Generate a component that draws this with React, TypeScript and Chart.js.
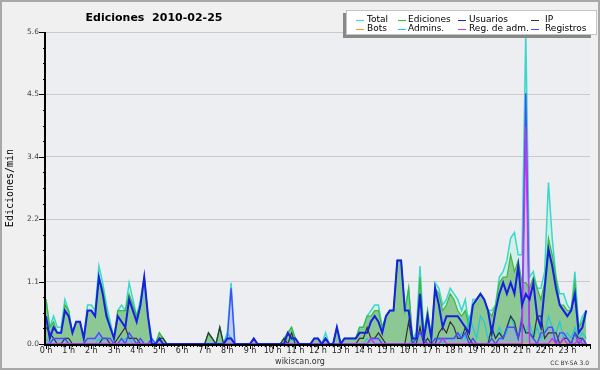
import React, { useEffect, useRef } from 'react';
import { Chart, registerables } from 'chart.js';

Chart.register(...registerables);

// 10-minute slots, 24 hours (each row = one hour, 6 slots)
const SLOT_MINUTES = 10;
const DAY_MINUTES = 1440;
const TITLE = 'Ediciones  2010-02-25';
const Y_TITLE = 'Ediciones/min';
const Y_MAX = 5.6;
const Y_STEP = 0.28;

const total = [
  0.8, 0.3, 0.5, 0.3, 0.3, 0.8,
  0.6, 0.2, 0.4, 0.4, 0.1, 0.7,
  0.7, 0.6, 1.4, 1.1, 0.7, 0.4,
  0.1, 0.6, 0.7, 0.6, 1.1, 0.8,
  0.5, 0.8, 1.2, 0.5, 0.1, 0,
  0.2, 0.1, 0, 0, 0, 0,
  0, 0, 0, 0, 0, 0,
  0, 0.2, 0.1, 0, 0.3, 0,
  0.2, 1.1, 0, 0, 0, 0,
  0, 0.1, 0, 0, 0, 0,
  0, 0, 0, 0.1, 0.2, 0.3,
  0.1, 0, 0, 0, 0, 0.1,
  0.1, 0, 0.2, 0, 0, 0.3,
  0, 0.1, 0.1, 0.1, 0.1, 0.3,
  0.3, 0.5, 0.6, 0.7, 0.7, 0.3,
  0.5, 0.6, 0.6, 1.5, 1.5, 0.6,
  1.0, 0.1, 0.2, 1.4, 0.2, 0.6,
  0.1, 1.1, 1.0, 0.7, 0.8, 1.0,
  0.9, 0.8, 0.6, 0.8, 0.3, 0.8,
  0.8, 0.9, 0.8, 0.6, 0.6, 0.7,
  1.2, 1.3, 1.5, 1.9, 2.0, 1.6,
  1.6, 5.6, 1.2, 1.3, 1.0, 1.0,
  1.3, 2.9, 1.9, 1.2, 0.9, 0.9,
  0.7, 0.6, 1.3, 0.3, 0.5, 0.6,
];

const ediciones = [
  0.8, 0.3, 0.4, 0.2, 0.2, 0.7,
  0.6, 0.2, 0.4, 0.4, 0.1, 0.6,
  0.6, 0.5, 1.2, 1.0, 0.6, 0.3,
  0.1, 0.6, 0.6, 0.6, 0.9, 0.7,
  0.5, 0.7, 1.2, 0.5, 0, 0,
  0.2, 0.1, 0, 0, 0, 0,
  0, 0, 0, 0, 0, 0,
  0, 0.2, 0.1, 0, 0.3, 0,
  0.1, 0.1, 0, 0, 0, 0,
  0, 0.1, 0, 0, 0, 0,
  0, 0, 0, 0.1, 0.2, 0.3,
  0.1, 0, 0, 0, 0, 0.1,
  0.1, 0, 0.1, 0, 0, 0.3,
  0, 0.1, 0.1, 0.1, 0.1, 0.3,
  0.3, 0.5, 0.5, 0.6, 0.6, 0.3,
  0.5, 0.6, 0.6, 1.5, 1.5, 0.6,
  1.0, 0.1, 0.1, 1.2, 0.1, 0.6,
  0.1, 1.0, 0.9, 0.6, 0.7, 0.9,
  0.8, 0.6, 0.5, 0.6, 0.3, 0.7,
  0.8, 0.9, 0.8, 0.6, 0.5, 0.7,
  1.1, 1.2, 1.2, 1.6, 1.3, 1.5,
  1.1, 1.1, 1.0, 1.2, 1.0, 0.8,
  1.1, 1.9, 1.6, 1.2, 0.7, 0.7,
  0.6, 0.6, 1.1, 0.3, 0.4, 0.6,
];

const usuarios = [
  0.5, 0.1, 0.3, 0.2, 0.2, 0.6,
  0.5, 0.2, 0.4, 0.4, 0.1, 0.6,
  0.6, 0.5, 1.2, 0.9, 0.5, 0.3,
  0.1, 0.5, 0.4, 0.3, 0.8, 0.6,
  0.4, 0.7, 1.2, 0.5, 0, 0,
  0.1, 0, 0, 0, 0, 0,
  0, 0, 0, 0, 0, 0,
  0, 0, 0, 0, 0, 0,
  0.1, 0.1, 0, 0, 0, 0,
  0, 0.1, 0, 0, 0, 0,
  0, 0, 0, 0, 0.2, 0.1,
  0.1, 0, 0, 0, 0, 0.1,
  0.1, 0, 0.1, 0, 0, 0.3,
  0, 0.1, 0.1, 0.1, 0.1, 0.2,
  0.2, 0.2, 0.4, 0.5, 0.4, 0.2,
  0.5, 0.6, 0.6, 1.5, 1.5, 0.6,
  0.6, 0.1, 0.1, 0.9, 0.1, 0.5,
  0.1, 1.0, 0.7, 0.3, 0.5, 0.5,
  0.5, 0.5, 0.4, 0.3, 0.2, 0.7,
  0.8, 0.9, 0.8, 0.6, 0.2, 0.6,
  0.9, 1.1, 0.9, 1.1, 0.9, 1.4,
  0.7, 0.9, 0.8, 1.1, 0.5, 0.3,
  1.0, 1.7, 1.4, 1.0, 0.7, 0.6,
  0.5, 0.6, 0.9, 0.2, 0.3, 0.6,
];

const ip = [
  0.3, 0.2, 0.1, 0, 0, 0.1,
  0.1, 0, 0, 0, 0, 0,
  0, 0, 0, 0.1, 0.1, 0,
  0, 0.1, 0.2, 0.3, 0.1, 0.1,
  0.1, 0, 0, 0, 0, 0,
  0.1, 0.1, 0, 0, 0, 0,
  0, 0, 0, 0, 0, 0,
  0, 0.2, 0.1, 0, 0.3, 0,
  0, 0, 0, 0, 0, 0,
  0, 0, 0, 0, 0, 0,
  0, 0, 0, 0.1, 0, 0.2,
  0, 0, 0, 0, 0, 0,
  0, 0, 0, 0, 0, 0,
  0, 0, 0, 0, 0, 0.1,
  0.1, 0.3, 0.1, 0.1, 0.2, 0.1,
  0, 0, 0, 0, 0, 0,
  0.4, 0, 0, 0.3, 0, 0.1,
  0, 0, 0.2, 0.3, 0.2, 0.4,
  0.3, 0.1, 0.1, 0.3, 0.1, 0,
  0, 0, 0, 0, 0.3, 0.1,
  0.2, 0.1, 0.3, 0.5, 0.4, 0.1,
  0.4, 0.2, 0.2, 0.1, 0.5, 0.5,
  0.1, 0.2, 0.2, 0.2, 0, 0.1,
  0.1, 0, 0.2, 0.1, 0.1, 0,
];

const bots = [
  0, 0, 0, 0, 0, 0, 0, 0, 0, 0, 0, 0, 0, 0, 0, 0, 0, 0, 0, 0, 0, 0, 0, 0,
  0, 0, 0, 0, 0, 0, 0, 0, 0, 0, 0, 0, 0, 0, 0, 0, 0, 0, 0, 0, 0, 0, 0, 0,
  0, 0, 0, 0, 0, 0, 0, 0, 0, 0, 0, 0, 0, 0, 0, 0, 0, 0, 0, 0, 0, 0, 0, 0,
  0, 0, 0, 0, 0, 0, 0, 0, 0, 0, 0, 0, 0, 0, 0, 0, 0, 0, 0, 0, 0, 0, 0, 0,
  0, 0, 0, 0, 0, 0, 0, 0, 0, 0, 0, 0, 0, 0, 0, 0, 0, 0, 0, 0, 0, 0, 0, 0,
  0, 0, 0, 0, 0, 0, 0, 0, 0, 0, 0, 0, 0, 0, 0, 0, 0, 0, 0, 0, 0, 0, 0, 0,
];

const admins = [
  0.1, 0, 0.1, 0, 0, 0.1,
  0, 0, 0, 0, 0, 0,
  0, 0, 0.1, 0, 0, 0,
  0, 0, 0, 0.1, 0.1, 0,
  0, 0, 0, 0, 0, 0,
  0.1, 0, 0, 0, 0, 0,
  0, 0, 0, 0, 0, 0,
  0, 0, 0, 0, 0, 0,
  0.2, 0.1, 0, 0, 0, 0,
  0, 0, 0, 0, 0, 0,
  0, 0, 0, 0, 0, 0.1,
  0, 0, 0, 0, 0, 0,
  0, 0, 0.1, 0, 0, 0,
  0, 0, 0, 0, 0, 0,
  0, 0.1, 0, 0, 0, 0,
  0, 0, 0, 0, 0, 0,
  0, 0.1, 0, 0.2, 0.1, 0,
  0, 0, 0.1, 0, 0.1, 0.1,
  0.1, 0.1, 0.2, 0.1, 0.5, 0.3,
  0.1, 0.5, 0.4, 0.1, 0.2, 0.1,
  0.3, 0.1, 0.2, 0.5, 0.3, 0.1,
  0.3, 0.2, 0.4, 0.1, 0.3, 0.1,
  0.2, 0.5, 0.3, 0.2, 0.4, 0.1,
  0.2, 0.1, 0.3, 0.1, 0.2, 0.1,
];

const regAdm = [
  0, 0, 0, 0, 0, 0,
  0, 0, 0, 0, 0, 0,
  0, 0, 0, 0, 0, 0,
  0, 0, 0, 0, 0, 0,
  0, 0, 0, 0, 0, 0,
  0, 0, 0, 0, 0, 0,
  0, 0, 0, 0, 0, 0,
  0, 0, 0, 0, 0, 0,
  0, 0, 0, 0, 0, 0,
  0, 0, 0, 0, 0, 0,
  0, 0, 0, 0, 0, 0,
  0, 0, 0, 0, 0, 0,
  0, 0, 0, 0, 0, 0,
  0, 0, 0, 0, 0, 0,
  0, 0, 0.1, 0, 0, 0,
  0, 0, 0, 0, 0, 0,
  0, 0, 0, 0, 0, 0,
  0, 0, 0, 0.1, 0, 0,
  0, 0, 0, 0, 0, 0,
  0, 0, 0, 0, 0, 0,
  0, 0, 0, 0, 0, 0,
  0, 3.9, 0, 0, 0, 0,
  0, 0, 0.1, 0, 0, 0.1,
  0, 0, 0, 0.1, 0, 0,
];

const registros = [
  0, 0, 0.1, 0.1, 0.1, 0.1,
  0, 0, 0, 0, 0, 0.1,
  0.1, 0.1, 0.2, 0.1, 0.1, 0.1,
  0, 0, 0.1, 0, 0.2, 0.1,
  0, 0.1, 0, 0, 0.1, 0,
  0, 0, 0, 0, 0, 0,
  0, 0, 0, 0, 0, 0,
  0, 0, 0, 0, 0, 0,
  0.1, 1.0, 0, 0, 0, 0,
  0, 0, 0, 0, 0, 0,
  0, 0, 0, 0, 0, 0,
  0, 0, 0, 0, 0, 0,
  0, 0, 0.1, 0, 0, 0,
  0, 0, 0, 0, 0, 0,
  0, 0, 0.1, 0.1, 0.1, 0,
  0, 0, 0, 0, 0, 0,
  0, 0, 0.1, 0.2, 0.1, 0,
  0, 0.1, 0.1, 0.1, 0.1, 0.1,
  0.1, 0.2, 0.1, 0.2, 0, 0.1,
  0, 0, 0, 0, 0.1, 0,
  0.1, 0.1, 0.3, 0.3, 0.3, 0.1,
  0.5, 4.5, 0.2, 0.1, 0, 0.2,
  0.2, 0.3, 0.3, 0, 0.2, 0.2,
  0.1, 0, 0.2, 0, 0.1, 0,
];

// legend layout: [label, column, row]
const legendOrder: [string, number, number][] = [
  ['Total', 0, 0], ['Ediciones', 1, 0], ['Usuarios', 2, 0], ['IP', 3, 0],
  ['Bots', 0, 1], ['Admins.', 1, 1], ['Reg. de adm.', 2, 1], ['Registros', 3, 1],
];

const decor = {
  id: 'decor',
  beforeDraw(chart: any) {
    const { ctx, chartArea: a, width, height } = chart;
    ctx.save();
    ctx.fillStyle = '#f0f0f0';
    ctx.fillRect(0, 0, width, height);
    ctx.fillStyle = '#edeef1';
    ctx.fillRect(a.left, a.top, a.right - a.left, a.bottom - a.top);
    ctx.strokeStyle = '#a8a8a8';
    ctx.lineWidth = 2;
    ctx.strokeRect(1, 1, width - 2, height - 2);
    ctx.restore();
  },
  afterDraw(chart: any) {
    const { ctx, chartArea: a } = chart;
    const xs = chart.scales.x;
    const ys = chart.scales.y;
    ctx.save();
    // ticks
    ctx.strokeStyle = '#000';
    ctx.lineWidth = 1;
    ys.ticks.forEach((t: any, i: number) => {
      const y = Math.round(ys.getPixelForValue(t.value)) + 0.5;
      const len = i % 4 === 0 ? 7 : 3;
      ctx.beginPath();
      ctx.moveTo(a.left - len, y);
      ctx.lineTo(a.left, y);
      ctx.stroke();
    });
    xs.ticks.forEach((t: any) => {
      const x = Math.round(xs.getPixelForValue(t.value)) + 0.5;
      const len = t.value % 60 === 0 ? 5 : 3;
      ctx.beginPath();
      ctx.moveTo(x, a.bottom);
      ctx.lineTo(x, a.bottom + len);
      ctx.stroke();
    });
    // axis lines
    ctx.lineWidth = 2;
    ctx.beginPath();
    ctx.moveTo(a.left - 1, a.top);
    ctx.lineTo(a.left - 1, a.bottom + 1);
    ctx.lineTo(a.right, a.bottom + 1);
    ctx.stroke();

    // title
    ctx.fillStyle = '#000';
    ctx.font = 'bold 11px "DejaVu Sans"';
    ctx.textAlign = 'center';
    ctx.textBaseline = 'alphabetic';
    ctx.fillText(TITLE, 154, 21);

    // legend
    ctx.fillStyle = '#888';
    ctx.fillRect(343, 13, 248, 25);
    ctx.fillStyle = '#ffffff';
    ctx.fillRect(346, 10, 251, 25);
    ctx.strokeStyle = '#c4c4c4';
    ctx.lineWidth = 1;
    ctx.strokeRect(346.5, 10.5, 250, 24);
    const swX = [356, 398, 458, 531];
    const txX = [367, 408, 469, 545];
    const rowY = [19.5, 29];
    ctx.font = '9px "DejaVu Sans"';
    ctx.textAlign = 'left';
    ctx.textBaseline = 'middle';
    legendOrder.forEach(([label, c, r]) => {
      const ds = chart.data.datasets.find((d: any) => d.label === label);
      ctx.strokeStyle = ds ? ds.borderColor : '#000';
      ctx.lineWidth = 1;
      ctx.beginPath();
      ctx.moveTo(swX[c], Math.round(rowY[r]) + 0.5);
      ctx.lineTo(swX[c] + 8, Math.round(rowY[r]) + 0.5);
      ctx.stroke();
      ctx.fillStyle = '#000';
      ctx.fillText(label, txX[c], rowY[r]);
    });

    // credits
    ctx.fillStyle = '#333';
    ctx.font = '8px "DejaVu Sans"';
    ctx.textAlign = 'center';
    ctx.textBaseline = 'alphabetic';
    ctx.fillText('wikiscan.org', 300, 364);
    ctx.font = '6px "DejaVu Sans"';
    ctx.textAlign = 'right';
    ctx.fillText('CC BY-SA 3.0', 589, 365);
    ctx.restore();
  },
};

export default function App() {
  const ref = useRef<HTMLCanvasElement>(null);
  useEffect(() => {
    const canvas = ref.current;
    if (!canvas) return;
    const pts = (arr: number[]) => arr.map((v, i) => ({ x: i * SLOT_MINUTES, y: v }));
    const line = (label: string, data: number[], color: string, width: number, extra: any = {}) => ({
      label,
      data: pts(data),
      borderColor: color,
      borderWidth: width,
      pointRadius: 0,
      tension: 0,
      fill: false,
      ...extra,
    });
    const chart = new Chart(canvas, {
      type: 'line',
      data: {
        datasets: [
          line('Usuarios', usuarios, '#1620e0', 2),
          line('Reg. de adm.', regAdm, '#cc30e8', 1.4),
          line('Registros', registros, '#4848ff', 1.4, { fill: 'origin', backgroundColor: 'rgba(150,150,255,0.35)' }),
          line('IP', ip, '#333333', 1.2),
          line('Admins.', admins, '#20c8dc', 1.2),
          line('Bots', bots, '#ff9c1a', 1.2),
          line('Ediciones', ediciones, '#3cb83c', 1.2, { fill: 'origin', backgroundColor: 'rgba(100,180,100,0.65)' }),
          line('Total', total, '#3ad8c8', 1.5, { fill: 'origin', backgroundColor: 'rgba(195,238,230,0.6)' }),
        ],
      },
      options: {
        responsive: false,
        animation: false,
        devicePixelRatio: 1,
        layout: { padding: { top: 32, right: 10, left: 0, bottom: 0 } },
        plugins: {
          legend: { display: false },
          tooltip: { enabled: false },
          filler: { drawTime: 'beforeDatasetsDraw', propagate: false },
        },
        scales: {
          x: {
            type: 'linear',
            min: 0,
            max: DAY_MINUTES,
            border: { display: false },
            grid: { display: false, drawTicks: false, tickLength: 0 },
            ticks: {
              stepSize: SLOT_MINUTES,
              autoSkip: false,
              maxRotation: 0,
              minRotation: 0,
              padding: 2,
              color: '#222',
              font: { family: 'DejaVu Sans', size: 8 },
              callback: (v: any) => (Number(v) % 60 === 0 && Number(v) < DAY_MINUTES ? `${Number(v) / 60} h` : ''),
            },
            afterFit: (s: any) => { s.height = 26; },
          },
          y: {
            min: 0,
            max: Y_MAX,
            border: { display: false },
            grid: {
              drawTicks: false,
              lineWidth: 1,
              color: (c: any) => (c.index % 4 === 0 && c.index > 0 ? '#cacaca' : 'rgba(0,0,0,0)'),
            },
            ticks: {
              stepSize: Y_STEP,
              autoSkip: false,
              padding: 7,
              color: '#444',
              font: { family: 'DejaVu Sans', size: 7.5 },
              callback: (v: any, i: number) => (i % 4 === 0 ? Number(v).toFixed(1) : ''),
            },
            title: {
              display: true,
              text: Y_TITLE,
              color: '#000',
              font: { family: 'DejaVu Sans Mono', size: 10 },
            },
            afterFit: (s: any) => { s.width = 46; },
          },
        },
      } as any,
      plugins: [decor],
    });
    return () => chart.destroy();
  }, []);
  return (
    <div style={{ position: 'fixed', left: 0, top: 0, width: 600, height: 370 }}>
      <canvas ref={ref} width={600} height={370} style={{ display: 'block', width: 600, height: 370 }} />
    </div>
  );
}
